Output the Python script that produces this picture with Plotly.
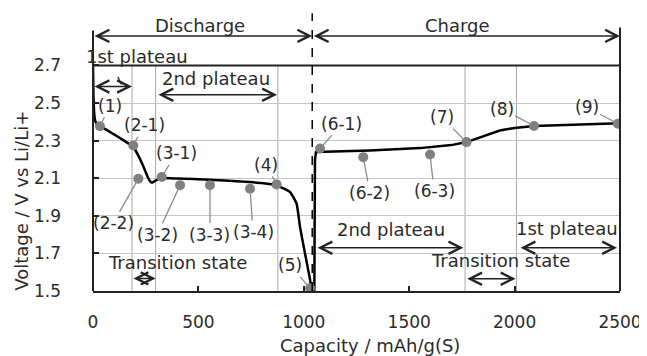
import plotly.graph_objects as go

# ---------------- data ----------------
discharge_x = [0, 2, 6, 12, 22, 33, 60, 100, 140, 175, 195, 215, 240, 260, 272, 280, 295, 318, 400, 550, 700, 800, 871, 935, 966, 982, 1006, 1029, 1037]
discharge_v = [2.70, 2.55, 2.44, 2.40, 2.385, 2.376, 2.360, 2.333, 2.305, 2.280, 2.260, 2.220, 2.160, 2.105, 2.082, 2.076, 2.086, 2.100, 2.098, 2.092, 2.082, 2.074, 2.062, 2.026, 1.964, 1.84, 1.698, 1.565, 1.503]

charge_x = [1050, 1053, 1058, 1100, 1314, 1551, 1700, 1772, 1800, 1836, 1870, 1899, 1930, 1962, 2000, 2092, 2310, 2500]
charge_v = [1.50, 2.20, 2.239, 2.240, 2.248, 2.260, 2.276, 2.292, 2.303, 2.319, 2.334, 2.345, 2.354, 2.360, 2.367, 2.378, 2.386, 2.392]

point_labels = ["(1)", "(2-1)", "(2-2)", "(3-1)", "(3-2)", "(3-3)", "(3-4)", "(4)", "(5)",
                "(6-1)", "(6-2)", "(6-3)", "(7)", "(8)", "(9)"]
point_x = [33, 191, 215, 326, 413, 555, 745, 871, 1030, 1077, 1282, 1599, 1772, 2092, 2490]
point_v = [2.376, 2.274, 2.097, 2.106, 2.063, 2.063, 2.044, 2.067, 1.515, 2.258, 2.212, 2.226, 2.292, 2.378, 2.390]
label_x = [81, 242, 95, 394, 304, 555, 759, 821, 935, 1181, 1314, 1618, 1654, 1939, 2342]
label_v = [2.485, 2.381, 1.860, 2.232, 1.798, 1.800, 1.813, 2.171, 1.636, 2.389, 2.022, 2.032, 2.425, 2.470, 2.478]

x_ticks = [0, 500, 1000, 1500, 2000, 2500]
y_ticks = [1.5, 1.7, 1.9, 2.1, 2.3, 2.5, 2.7]
y_tick_text = ["1.5", "1.7", "1.9", "2.1", "2.3", "2.5", "2.7"]

boundary_x = [185, 297, 877, 1765, 2009]
switch_x = 1040

# region labels: text, x, v
region_texts = ["Discharge", "Charge", "1st plateau", "2nd plateau", "Transition state",
                "2nd plateau", "1st plateau", "Transition state"]
region_tx = [508, 1727, 211, 582, 403, 1414, 2249, 1931]
region_tv = [2.913, 2.913, 2.748, 2.631, 1.649, 1.825, 1.830, 1.660]
# double arrows: x_start, x_end, v
arrow_x0 = [0, 1040, 0, 303, 185, 1058, 2021, 1768]
arrow_x1 = [1040, 2500, 185, 873, 297, 1757, 2486, 2005]
arrow_v = [2.857, 2.857, 2.588, 2.544, 1.567, 1.730, 1.730, 1.565]

FONT = "DejaVu Sans"
TXT = "#2b2b2b"

fig = go.Figure()
fig.add_trace(go.Scatter(x=discharge_x, y=discharge_v, mode="lines",
                         line=dict(color="black", width=2.5, shape="spline", smoothing=0.4),
                         showlegend=False, hoverinfo="skip"))
fig.add_trace(go.Scatter(x=charge_x, y=charge_v, mode="lines",
                         line=dict(color="black", width=2.5),
                         showlegend=False, hoverinfo="skip"))
fig.add_trace(go.Scatter(x=point_x, y=point_v, mode="markers",
                         marker=dict(color="#808080", size=10),
                         showlegend=False, hoverinfo="skip"))

shapes = []
for bx in boundary_x:
    shapes.append(dict(type="line", xref="x", yref="y", x0=bx, x1=bx, y0=1.5, y1=2.7,
                       line=dict(color="#a8a8a8", width=1), layer="below"))
shapes.append(dict(type="line", xref="paper", yref="y", x0=0, x1=0, y0=1.5, y1=2.886,
                   line=dict(color="#222", width=2)))
shapes.append(dict(type="line", xref="paper", yref="y", x0=1, x1=1, y0=1.5, y1=2.902,
                   line=dict(color="#222", width=2)))
shapes.append(dict(type="line", xref="paper", yref="y", x0=0, x1=1, y0=2.7, y1=2.7,
                   line=dict(color="#222", width=2)))
shapes.append(dict(type="line", xref="x", yref="y", x0=switch_x, x1=switch_x, y0=1.5, y1=2.977,
                   line=dict(color="black", width=1.5, dash="dash")))
shapes.append(dict(type="line", xref="x", yref="y", x0=118, x1=135, y0=2.64, y1=2.598,
                   line=dict(color="#222", width=1.2)))

annotations = []
for t, lx, lv, px, pv in zip(point_labels, label_x, label_v, point_x, point_v):
    annotations.append(dict(text=t, x=px, y=pv, ax=lx, ay=lv, xref="x", yref="y",
                            axref="x", ayref="y", showarrow=True, arrowhead=0,
                            arrowcolor="#8c8c8c", arrowwidth=1.3, standoff=3,
                            font=dict(family=FONT, size=17, color=TXT)))
for t, tx, tv in zip(region_texts, region_tx, region_tv):
    annotations.append(dict(text=t, x=tx, y=tv, xref="x", yref="y", showarrow=False,
                            xanchor="center", yanchor="middle",
                            font=dict(family=FONT, size=18, color=TXT)))
for x0, x1, v in zip(arrow_x0, arrow_x1, arrow_v):
    annotations.append(dict(text="", x=x1, y=v, ax=x0, ay=v, xref="x", yref="y",
                            axref="x", ayref="y", showarrow=True, arrowside="end+start",
                            arrowhead=5, startarrowhead=5, arrowsize=1.6, startarrowsize=1.6,
                            arrowwidth=1.5, arrowcolor="#222", standoff=0, startstandoff=0))
annotations.append(dict(text="Capacity / mAh/g(S)", xref="paper", yref="paper",
                        x=0.5256, y=-0.1915, showarrow=False,
                        xanchor="center", yanchor="middle",
                        font=dict(family=FONT, size=18, color=TXT)))
annotations.append(dict(text="Voltage / V vs Li/Li+", xref="paper", yref="y",
                        x=-0.1347, y=1.98, showarrow=False, textangle=-90,
                        xanchor="center", yanchor="middle",
                        font=dict(family=FONT, size=18, color=TXT)))

# page body has an 8px default margin, so the figure is 8px smaller and margins shifted
fig.update_layout(
    width=639, height=348,
    margin=dict(l=85, r=27, t=1, b=65),
    paper_bgcolor="white", plot_bgcolor="white",
    shapes=shapes, annotations=annotations,
    xaxis=dict(range=[0, 2500], tickvals=x_ticks, ticks="inside", ticklen=5,
               tickcolor="#222", tickwidth=1.5, showgrid=False, zeroline=False,
               showline=True, linecolor="#222", linewidth=2, automargin=False,
               ticklabelstandoff=15,
               tickfont=dict(family=FONT, size=17, color=TXT)),
    yaxis=dict(range=[1.5, 3.0], tickvals=y_ticks, ticktext=y_tick_text, ticks="inside",
               ticklen=6, tickcolor="#222", tickwidth=1.5, showgrid=True,
               gridcolor="#c4c4c4", gridwidth=1, zeroline=False, showline=False,
               automargin=False, ticklabelstandoff=31,
               tickfont=dict(family=FONT, size=17, color=TXT)),
)

fig.write_html("out.html")
